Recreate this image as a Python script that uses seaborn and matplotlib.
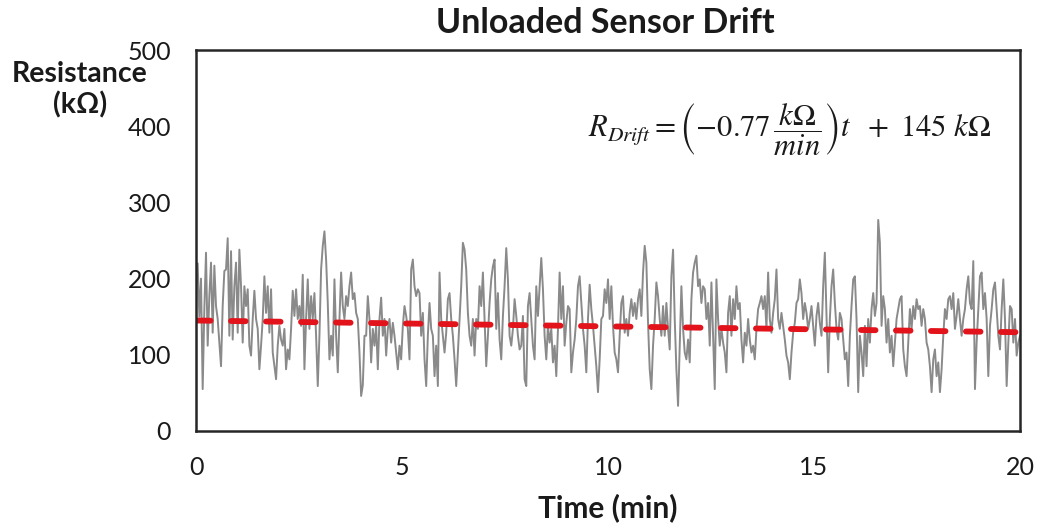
import matplotlib

matplotlib.use("Agg")

import matplotlib.pyplot as plt
import numpy as np
import seaborn as sns

TITLE = "Unloaded Sensor Drift"
X_LABEL = "Time (min)"
Y_LABEL_LINES = ["Resistance", "(kΩ)"]
EQUATION = r"$R_{Drift} = \left(-0.77\,\dfrac{k\Omega}{min}\right)t\ \ +\ 145\ k\Omega$"

X_TICKS = [0, 5, 10, 15, 20]
Y_TICKS = [0, 100, 200, 300, 400, 500]
T_END = 20

DRIFT_SLOPE = -0.77      # kOhm / min
DRIFT_INTERCEPT = 145    # kOhm

# resistance trace (kOhm) at even time steps, in five chunks
resistance_0_4min = [
    190, 220, 150, 200, 55, 160, 234, 112, 177, 221,
    129, 217, 164, 147, 116, 85, 164, 210, 212, 253,
    125, 236, 120, 190, 221, 129, 238, 190, 116, 190,
    164, 186, 112, 99, 147, 184, 147, 134, 81, 112,
    147, 203, 155, 190, 129, 186, 103, 85, 68, 112,
    138, 120, 112, 134, 81, 107, 94, 134, 184, 151,
    186, 147, 164, 138, 205, 81, 147, 199, 134, 177,
    147, 181, 125, 59, 125, 212, 243, 262, 225, 168,
    94, 125, 99, 199, 125, 77, 147, 208, 164, 147,
    177, 164, 190, 208, 173, 181, 155, 147, 103, 46,
]
resistance_4_8min = [
    60, 125, 125, 177, 147, 90, 134, 112, 138, 81,
    147, 175, 125, 147, 99, 134, 147, 116, 142, 125,
    103, 81, 112, 94, 138, 164, 151, 134, 94, 212,
    225, 190, 177, 186, 181, 125, 155, 94, 59, 125,
    168, 134, 125, 72, 112, 59, 208, 147, 125, 103,
    129, 173, 181, 147, 125, 94, 59, 103, 147, 190,
    247, 238, 212, 155, 125, 112, 147, 99, 147, 134,
    190, 164, 208, 147, 85, 125, 168, 199, 216, 225,
    134, 181, 120, 94, 151, 190, 240, 199, 125, 112,
    134, 173, 151, 125, 107, 112, 151, 68, 59, 164,
    181, 147, 112,
]
resistance_8_12min = [
    94, 190, 151, 190, 227, 186, 125, 94, 138, 116,
    134, 90, 112, 72, 134, 208, 147, 190, 112, 142,
    164, 160, 77, 103, 120, 147, 190, 203, 168, 134,
    112, 77, 147, 192, 160, 138, 112, 85, 51, 94,
    147, 151, 186, 168, 199, 147, 190, 138, 103, 94,
    77, 125, 168, 177, 129, 147, 125, 155, 173, 151,
    168, 147, 173, 186, 151, 208, 243, 221, 142, 81,
    55, 112, 147, 195, 177, 147, 125, 164, 125, 168,
    134, 107, 203, 238, 147, 81, 33, 112, 190, 134,
    103, 94, 120, 90, 173, 208, 221, 230, 190, 199,
    168, 190,
]
resistance_12_16min = [
    186, 147, 168, 112, 195, 125, 55, 199, 147, 112,
    134, 116, 103, 77, 155, 177, 125, 173, 147, 190,
    160, 168, 120, 90, 129, 112, 147, 120, 103, 112,
    94, 134, 160, 168, 177, 160, 177, 134, 208, 147,
    129, 155, 173, 212, 147, 134, 155, 138, 120, 99,
    90, 68, 103, 129, 142, 168, 173, 199, 181, 147,
    168, 155, 134, 147, 164, 138, 112, 151, 168, 142,
    125, 190, 234, 151, 77, 147, 190, 212, 168, 134,
    120, 155, 147, 120, 94, 103, 59, 125, 164, 199,
    203, 147, 51,
]
resistance_16_20min = [
    125, 103, 72, 138, 85, 147, 116, 160, 181, 151,
    168, 277, 247, 138, 177, 160, 116, 147, 103, 125,
    85, 116, 147, 160, 173, 177, 107, 85, 72, 116,
    160, 134, 164, 147, 173, 160, 164, 138, 160, 147,
    116, 107, 85, 51, 94, 107, 72, 90, 51, 81,
    125, 160, 147, 173, 177, 160, 181, 134, 151, 173,
    147, 125, 147, 160, 186, 203, 168, 160, 223, 55,
    116, 160, 203, 208, 160, 181, 147, 72, 138, 160,
    186, 195, 160, 125, 107, 160, 199, 147, 59, 116,
    164, 160, 116, 147, 99, 116, 125,
]

TRACE_COLOR = "#8a8a8a"
DRIFT_COLOR = "#e3131b"
FRAME_COLOR = "#262626"
TEXT_COLOR = "#1a1a1a"


def main() -> None:
    resistance = np.concatenate([
        resistance_0_4min,
        resistance_4_8min,
        resistance_8_12min,
        resistance_12_16min,
        resistance_16_20min,
    ]).astype(float)
    time = np.linspace(0, T_END, len(resistance))

    fit_time = np.array([0, T_END], dtype=float)
    fit_resistance = DRIFT_INTERCEPT + DRIFT_SLOPE * fit_time

    sns.set_theme(style="white")
    plt.rcParams["font.family"] = ["Lato", "DejaVu Sans"]
    plt.rcParams["mathtext.fontset"] = "stix"

    fig = plt.figure(figsize=(10.4, 5.3), dpi=100)
    ax = fig.add_axes([196 / 1040, 1 - 431 / 530, 824 / 1040, 381 / 530])

    sns.lineplot(x=time, y=resistance, color=TRACE_COLOR, linewidth=1.4, ax=ax)
    sns.lineplot(x=fit_time, y=fit_resistance, color=DRIFT_COLOR, linewidth=4.2, ax=ax)
    fit_line = ax.lines[-1]
    fit_line.set_dashes((2.5, 3.5))
    fit_line.set_dash_capstyle("round")

    ax.set_xlim(0, T_END)
    ax.set_ylim(Y_TICKS[0], Y_TICKS[-1])
    ax.set_xticks(X_TICKS)
    ax.set_yticks(Y_TICKS)
    ax.set_xlabel("")
    ax.set_ylabel("")
    ax.tick_params(axis="both", direction="out", length=5, width=1,
                   color="#bfbfbf", pad=13, labelsize=18, labelcolor=TEXT_COLOR)
    for spine in ax.spines.values():
        spine.set_visible(True)
        spine.set_color(FRAME_COLOR)
        spine.set_linewidth(1.8)

    fig.text(605 / 1040, 1 - 33 / 530, TITLE, ha="center", va="baseline",
             fontsize=24.5, fontweight="bold", color=TEXT_COLOR)
    fig.text(608 / 1040, 1 - 517 / 530, X_LABEL, ha="center", va="baseline",
             fontsize=21.5, fontweight="bold", color=TEXT_COLOR)
    fig.text(80 / 1040, 1 - 82 / 530, Y_LABEL_LINES[0], ha="center", va="baseline",
             fontsize=20.5, fontweight="bold", color=TEXT_COLOR)
    fig.text(80 / 1040, 1 - 113 / 530, Y_LABEL_LINES[1], ha="center", va="baseline",
             fontsize=20.5, fontweight="bold", color=TEXT_COLOR)
    fig.text(789 / 1040, 1 - 130 / 530, EQUATION, ha="center", va="center",
             fontsize=22, color=TEXT_COLOR)

    fig.savefig("out.png", dpi=100)
    plt.close(fig)


if __name__ == "__main__":
    main()
